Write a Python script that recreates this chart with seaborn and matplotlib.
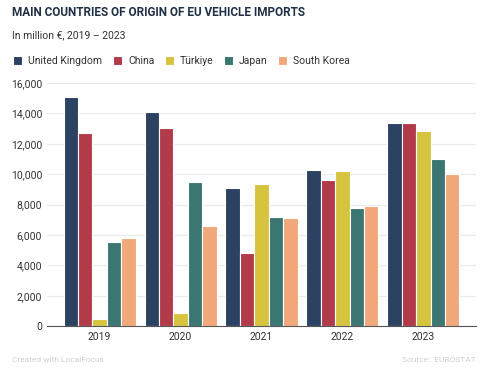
import numpy as np
import pandas as pd
import seaborn as sns
import matplotlib.pyplot as plt
from matplotlib.ticker import FuncFormatter

years = ['2019', '2020', '2021', '2022', '2023']
countries = ['United Kingdom', 'China', 'Türkiye', 'Japan', 'South Korea']
uk = [15100, 14100, 9100, 10300, 13400]
china = [12700, 13050, 4800, 9650, 13350]
turkiye = [480, 840, 9350, 10180, 12850]
japan = [5560, 9480, 7150, 7780, 11020]
south_korea = [5820, 6560, 7100, 7930, 10030]
colors = ['#2b4262', '#b23b4a', '#d6c43f', '#3b7672', '#f1a87a']

values = [uk, china, turkiye, japan, south_korea]
rows = []
for c, vals in zip(countries, values):
	for y, v in zip(years, vals):
		rows.append({'year': y, 'country': c, 'value': v})
df = pd.DataFrame(rows)

sns.set_style('white')
plt.rcParams['font.family'] = ['Roboto', 'DejaVu Sans']

fig = plt.figure(figsize=(5, 3.74), dpi=100)
ax = fig.add_axes([0.094, 0.128, 0.858, 0.65])

sns.barplot(data=df, x='year', y='value', hue='country', hue_order=countries,
			palette=colors, width=0.89, edgecolor='white', linewidth=0.8,
			saturation=1, ax=ax, legend=True)

ax.set_ylim(0, 16000)
ax.set_xlim(-0.65, 4.65)
ax.set_yticks(np.arange(0, 16001, 2000))
ax.yaxis.set_major_formatter(FuncFormatter(lambda v, p: '{:,.0f}'.format(v)))
ax.grid(axis='y', color='#ebebeb', linewidth=1)
ax.set_axisbelow(True)
for s in ['top', 'right', 'left']:
	ax.spines[s].set_visible(False)
ax.spines['bottom'].set_color('#555555')
ax.tick_params(axis='both', length=0, labelsize=7.5, colors='#333333')
ax.tick_params(axis='x', pad=4)
ax.set_xlabel('')
ax.set_ylabel('')

handles, labels = ax.get_legend_handles_labels()
ax.get_legend().remove()
fig.legend(handles, labels, loc='upper left', bbox_to_anchor=(0.008, 0.875), ncol=5,
		   frameon=False, fontsize=7.5, handlelength=0.85, handleheight=0.85,
		   handletextpad=0.6, columnspacing=1.0, labelcolor='#333333')

fig.text(0.024, 0.966, 'MAIN COUNTRIES OF ORIGIN OF EU VEHICLE IMPORTS', fontsize=8.5,
		 fontweight='bold', color='#1f2f44', va='center')
fig.text(0.024, 0.906, 'In million €, 2019 – 2023', fontsize=7.5, color='#333333', va='center')
fig.text(0.024, 0.037, 'Created with LocalFocus', fontsize=6, color='#d0d0d0', va='center')
fig.text(0.952, 0.037, 'Source:  EUROSTAT', fontsize=6, color='#d0d0d0', va='center', ha='right')

plt.savefig('out.png', dpi=100)
